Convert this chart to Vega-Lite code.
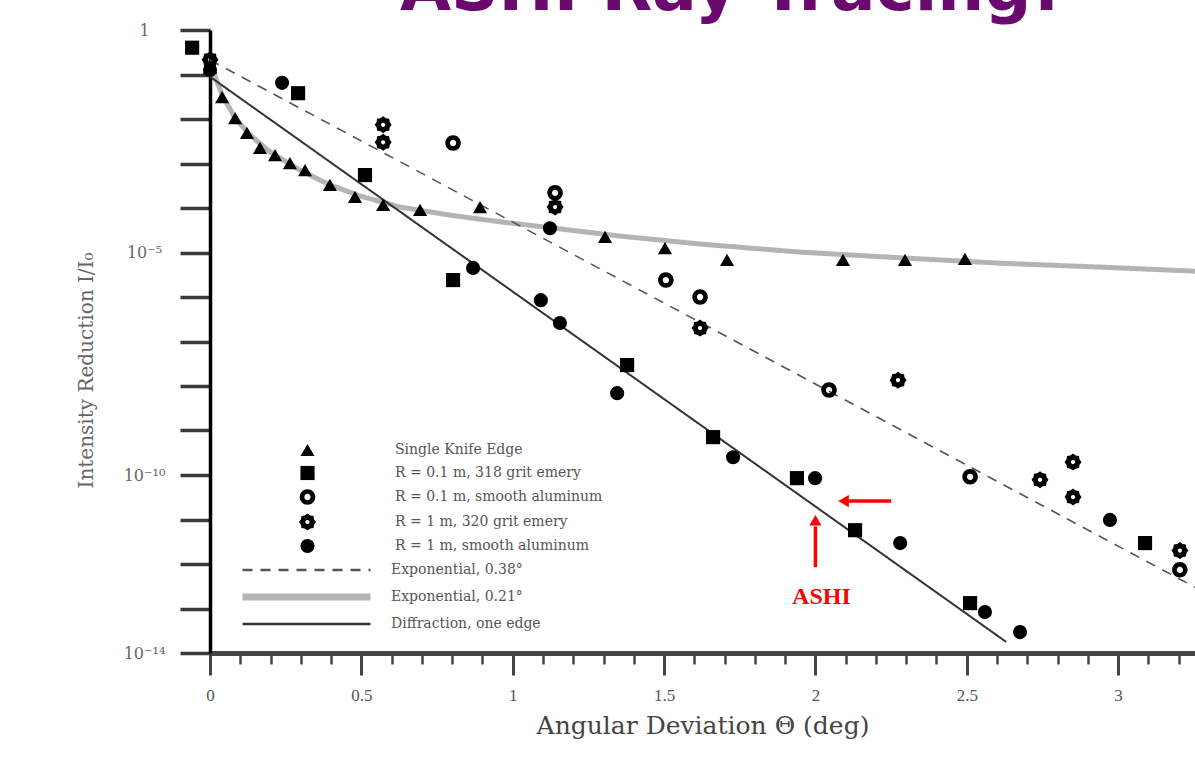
{
  "$schema": "https://vega.github.io/schema/vega-lite/v6.json",
  "width": 985,
  "height": 623,
  "autosize": {"type": "none"},
  "padding": {"left": 210, "top": 30, "right": 0, "bottom": 107},
  "background": "white",
  "title": {
    "text": "ASHI Ray Tracing!",
    "anchor": "start",
    "frame": "group",
    "dx": 190,
    "dy": 63,
    "offset": 9,
    "baseline": "alphabetic",
    "font": "DejaVu Sans",
    "fontSize": 66,
    "fontWeight": "bold",
    "color": "#6b0a6e"
  },
  "datasets": {
    "pts": [
      {"series": "Single Knife Edge", "x": 0.0, "y": 0.141},
      {"series": "Single Knife Edge", "x": 0.040, "y": 0.0309},
      {"series": "Single Knife Edge", "x": 0.083, "y": 0.0105},
      {"series": "Single Knife Edge", "x": 0.122, "y": 0.0049},
      {"series": "Single Knife Edge", "x": 0.165, "y": 0.00224},
      {"series": "Single Knife Edge", "x": 0.215, "y": 0.00155},
      {"series": "Single Knife Edge", "x": 0.264, "y": 0.00102},
      {"series": "Single Knife Edge", "x": 0.314, "y": 0.00071},
      {"series": "Single Knife Edge", "x": 0.396, "y": 0.00033},
      {"series": "Single Knife Edge", "x": 0.479, "y": 0.000178},
      {"series": "Single Knife Edge", "x": 0.572, "y": 0.000117},
      {"series": "Single Knife Edge", "x": 0.694, "y": 0.000091},
      {"series": "Single Knife Edge", "x": 0.892, "y": 0.000105},
      {"series": "Single Knife Edge", "x": 1.305, "y": 0.0000224},
      {"series": "Single Knife Edge", "x": 1.503, "y": 0.0000126},
      {"series": "Single Knife Edge", "x": 1.708, "y": 0.0000068},
      {"series": "Single Knife Edge", "x": 2.091, "y": 0.0000068},
      {"series": "Single Knife Edge", "x": 2.296, "y": 0.0000068},
      {"series": "Single Knife Edge", "x": 2.494, "y": 0.0000072},
      {"series": "R = 0.1 m, 318 grit emery", "x": -0.059, "y": 0.40},
      {"series": "R = 0.1 m, 318 grit emery", "x": 0.291, "y": 0.038},
      {"series": "R = 0.1 m, 318 grit emery", "x": 0.512, "y": 0.00055},
      {"series": "R = 0.1 m, 318 grit emery", "x": 0.803, "y": 2.4e-6},
      {"series": "R = 0.1 m, 318 grit emery", "x": 1.378, "y": 2.95e-8},
      {"series": "R = 0.1 m, 318 grit emery", "x": 1.662, "y": 7.1e-10},
      {"series": "R = 0.1 m, 318 grit emery", "x": 1.939, "y": 8.5e-11},
      {"series": "R = 0.1 m, 318 grit emery", "x": 2.131, "y": 5.75e-12},
      {"series": "R = 0.1 m, 318 grit emery", "x": 2.511, "y": 1.32e-13},
      {"series": "R = 0.1 m, 318 grit emery", "x": 3.089, "y": 2.95e-12},
      {"series": "R = 0.1 m, smooth aluminum", "x": 0.803, "y": 0.0029},
      {"series": "R = 0.1 m, smooth aluminum", "x": 1.140, "y": 0.000219},
      {"series": "R = 0.1 m, smooth aluminum", "x": 1.506, "y": 2.4e-6},
      {"series": "R = 0.1 m, smooth aluminum", "x": 1.619, "y": 1.0e-6},
      {"series": "R = 0.1 m, smooth aluminum", "x": 2.045, "y": 8.1e-9},
      {"series": "R = 0.1 m, smooth aluminum", "x": 2.511, "y": 9.1e-11},
      {"series": "R = 0.1 m, smooth aluminum", "x": 3.204, "y": 7.4e-13},
      {"series": "R = 1 m, 320 grit emery", "x": 0.0, "y": 0.214},
      {"series": "R = 1 m, 320 grit emery", "x": 0.572, "y": 0.0074},
      {"series": "R = 1 m, 320 grit emery", "x": 0.572, "y": 0.0030},
      {"series": "R = 1 m, 320 grit emery", "x": 1.140, "y": 0.000105},
      {"series": "R = 1 m, 320 grit emery", "x": 1.619, "y": 2.0e-7},
      {"series": "R = 1 m, 320 grit emery", "x": 2.273, "y": 1.35e-8},
      {"series": "R = 1 m, 320 grit emery", "x": 2.742, "y": 7.8e-11},
      {"series": "R = 1 m, 320 grit emery", "x": 2.851, "y": 1.95e-10},
      {"series": "R = 1 m, 320 grit emery", "x": 2.851, "y": 3.2e-11},
      {"series": "R = 1 m, 320 grit emery", "x": 3.204, "y": 2.0e-12},
      {"series": "R = 1 m, smooth aluminum", "x": 0.0, "y": 0.126},
      {"series": "R = 1 m, smooth aluminum", "x": 0.238, "y": 0.065},
      {"series": "R = 1 m, smooth aluminum", "x": 0.869, "y": 4.5e-6},
      {"series": "R = 1 m, smooth aluminum", "x": 1.093, "y": 8.5e-7},
      {"series": "R = 1 m, smooth aluminum", "x": 1.123, "y": 0.000035},
      {"series": "R = 1 m, smooth aluminum", "x": 1.156, "y": 2.6e-7},
      {"series": "R = 1 m, smooth aluminum", "x": 1.345, "y": 6.9e-9},
      {"series": "R = 1 m, smooth aluminum", "x": 1.728, "y": 2.5e-10},
      {"series": "R = 1 m, smooth aluminum", "x": 1.999, "y": 8.5e-11},
      {"series": "R = 1 m, smooth aluminum", "x": 2.280, "y": 2.95e-12},
      {"series": "R = 1 m, smooth aluminum", "x": 2.560, "y": 8.3e-14},
      {"series": "R = 1 m, smooth aluminum", "x": 2.676, "y": 2.95e-14},
      {"series": "R = 1 m, smooth aluminum", "x": 2.973, "y": 9.8e-12}
    ],
    "curves": [
      {"curve": "Exponential, 0.38°", "x": 0.0, "y": 0.212},
      {"curve": "Exponential, 0.38°", "x": 3.254, "y": 3.0e-13},
      {"curve": "Exponential, 0.21°", "x": 0.0, "y": 0.182},
      {"curve": "Exponential, 0.21°", "x": 0.04, "y": 0.0347},
      {"curve": "Exponential, 0.21°", "x": 0.083, "y": 0.0105},
      {"curve": "Exponential, 0.21°", "x": 0.132, "y": 0.00437},
      {"curve": "Exponential, 0.21°", "x": 0.198, "y": 0.00182},
      {"curve": "Exponential, 0.21°", "x": 0.297, "y": 0.00071},
      {"curve": "Exponential, 0.21°", "x": 0.396, "y": 0.00033},
      {"curve": "Exponential, 0.21°", "x": 0.496, "y": 0.000186},
      {"curve": "Exponential, 0.21°", "x": 0.628, "y": 0.000105},
      {"curve": "Exponential, 0.21°", "x": 0.793, "y": 0.000069},
      {"curve": "Exponential, 0.21°", "x": 0.958, "y": 0.000049},
      {"curve": "Exponential, 0.21°", "x": 1.156, "y": 0.000034},
      {"curve": "Exponential, 0.21°", "x": 1.354, "y": 0.0000234},
      {"curve": "Exponential, 0.21°", "x": 1.619, "y": 0.0000155},
      {"curve": "Exponential, 0.21°", "x": 1.949, "y": 0.0000102},
      {"curve": "Exponential, 0.21°", "x": 2.28, "y": 0.0000076},
      {"curve": "Exponential, 0.21°", "x": 2.61, "y": 0.00000575},
      {"curve": "Exponential, 0.21°", "x": 2.94, "y": 0.0000047},
      {"curve": "Exponential, 0.21°", "x": 3.254, "y": 0.0000038},
      {"curve": "Diffraction, one edge", "x": 0.0, "y": 0.089},
      {"curve": "Diffraction, one edge", "x": 2.63, "y": 1.78e-14}
    ]
  },
  "encoding": {
    "x": {
      "field": "x",
      "type": "quantitative",
      "scale": {"domain": [0, 3.254], "nice": false, "zero": false},
      "axis": {
        "title": "Angular Deviation Θ (deg)",
        "values": [0, 0.1, 0.2, 0.3, 0.4, 0.5, 0.6, 0.7, 0.8, 0.9, 1, 1.1, 1.2, 1.3, 1.4, 1.5, 1.6, 1.7, 1.8, 1.9, 2, 2.1, 2.2, 2.3, 2.4, 2.5, 2.6, 2.7, 2.8, 2.9, 3, 3.1, 3.2],
        "labelExpr": "abs(datum.value*2 - round(datum.value*2)) < 0.001 ? format(datum.value, '~g') : ''",
        "tickSize": {"condition": {"test": "abs(datum.value*2 - round(datum.value*2)) < 0.001", "value": 22}, "value": 11},
        "tickWidth": {"condition": {"test": "abs(datum.value*2 - round(datum.value*2)) < 0.001", "value": 3}, "value": 2.5},
        "tickColor": "#444",
        "domainColor": "#444",
        "domainWidth": 5,
        "labelFont": "Liberation Serif",
        "labelFontSize": 17,
        "labelColor": "#555",
        "labelPadding": 12,
        "labelFlush": false,
        "labelOverlap": false,
        "titleFont": "DejaVu Serif",
        "titleFontSize": 25,
        "titleFontWeight": "normal",
        "titleColor": "#444",
        "titlePadding": 10,
        "grid": false
      }
    },
    "y": {
      "field": "y",
      "type": "quantitative",
      "scale": {"type": "log", "domain": [1e-14, 1], "nice": false},
      "axis": {
        "title": "Intensity Reduction I/I₀",
        "values": [1, 1e-1, 1e-2, 1e-3, 1e-4, 1e-5, 1e-6, 1e-7, 1e-8, 1e-9, 1e-10, 1e-11, 1e-12, 1e-13, 1e-14],
        "labelExpr": "datum.value > 0.5 ? '1' : abs(log(datum.value)/LN10 + 5) < 0.01 ? '10⁻⁵' : abs(log(datum.value)/LN10 + 10) < 0.01 ? '10⁻¹⁰' : abs(log(datum.value)/LN10 + 14) < 0.01 ? '10⁻¹⁴' : ''",
        "tickSize": 30,
        "tickWidth": 3.5,
        "tickColor": "#3a3a3a",
        "domainColor": "#000",
        "domainWidth": 3.5,
        "labelAlign": "center",
        "labelBaseline": "middle",
        "labelPadding": 36,
        "labelFont": "DejaVu Serif",
        "labelFontSize": 16,
        "labelColor": "#666",
        "labelOverlap": false,
        "labelFlush": false,
        "titleFont": "DejaVu Serif",
        "titleFontSize": 20,
        "titleFontWeight": "normal",
        "titleColor": "#666",
        "titleX": -114,
        "titleY": 340,
        "grid": false
      }
    }
  },
  "layer": [
    {
      "data": {"name": "curves"},
      "transform": [{"filter": "datum.curve == 'Exponential, 0.21°'"}],
      "mark": {"type": "line", "strokeWidth": 5, "clip": true},
      "encoding": {
        "color": {
          "field": "curve", "type": "nominal",
          "scale": {"domain": ["Exponential, 0.38°", "Exponential, 0.21°", "Diffraction, one edge"], "range": ["#555555", "#b4b4b4", "#333333"]},
          "legend": {"orient": "none", "legendX": 89.5, "legendY": 533, "title": null, "padding": 0, "rowPadding": 6, "symbolType": "M -8 0 L 8 0", "symbolSize": 256, "symbolStrokeWidth": 2.5, "labelOffset": 77.5, "labelFont": "DejaVu Serif", "labelFontSize": 14, "labelColor": "#555", "labelLimit": 400,
            "encode": {"symbols": {"update": {"strokeWidth": {"signal": "datum.value == 'Exponential, 0.21°' ? 7 : 2.5"}}}}}
        },
        "strokeDash": {
          "field": "curve", "type": "nominal",
          "scale": {"domain": ["Exponential, 0.38°", "Exponential, 0.21°", "Diffraction, one edge"], "range": [[10, 8], [1, 0], [1, 0]]},
          "legend": {"orient": "none", "legendX": 89.5, "legendY": 533, "title": null, "padding": 0, "rowPadding": 6, "symbolType": "M -8 0 L 8 0", "symbolSize": 256, "symbolStrokeWidth": 2.5, "labelOffset": 77.5, "labelFont": "DejaVu Serif", "labelFontSize": 14, "labelColor": "#555", "labelLimit": 400,
            "encode": {"symbols": {"update": {"strokeWidth": {"signal": "datum.value == 'Exponential, 0.21°' ? 7 : 2.5"}}}}}
        }
      }
    },
    {
      "data": {"name": "curves"},
      "transform": [{"filter": "datum.curve == 'Exponential, 0.38°'"}],
      "mark": {"type": "line", "strokeWidth": 1.6, "clip": true},
      "encoding": {
        "color": {"field": "curve", "type": "nominal", "scale": {"domain": ["Exponential, 0.38°", "Exponential, 0.21°", "Diffraction, one edge"], "range": ["#555555", "#b4b4b4", "#333333"]}},
        "strokeDash": {"field": "curve", "type": "nominal", "scale": {"domain": ["Exponential, 0.38°", "Exponential, 0.21°", "Diffraction, one edge"], "range": [[10, 8], [1, 0], [1, 0]]}}
      }
    },
    {
      "data": {"name": "curves"},
      "transform": [{"filter": "datum.curve == 'Diffraction, one edge'"}],
      "mark": {"type": "line", "strokeWidth": 2, "clip": true},
      "encoding": {
        "color": {"field": "curve", "type": "nominal", "scale": {"domain": ["Exponential, 0.38°", "Exponential, 0.21°", "Diffraction, one edge"], "range": ["#555555", "#b4b4b4", "#333333"]}},
        "strokeDash": {"field": "curve", "type": "nominal", "scale": {"domain": ["Exponential, 0.38°", "Exponential, 0.21°", "Diffraction, one edge"], "range": [[10, 8], [1, 0], [1, 0]]}}
      }
    },
    {
      "data": {"name": "pts"},
      "mark": {"type": "point", "filled": true, "color": "#000", "opacity": 1, "size": 200, "clip": false},
      "encoding": {
        "shape": {
          "field": "series", "type": "nominal",
          "scale": {
            "domain": ["Single Knife Edge", "R = 0.1 m, 318 grit emery", "R = 0.1 m, smooth aluminum", "R = 1 m, 320 grit emery", "R = 1 m, smooth aluminum"],
            "range": [
              "triangle-up",
              "square",
              "M -1.1 0 A 1.1 1.1 0 1 1 1.1 0 A 1.1 1.1 0 1 1 -1.1 0 Z M -0.45 0 A 0.45 0.45 0 1 0 0.45 0 A 0.45 0.45 0 1 0 -0.45 0 Z",
              "M 1.2 0 L 0.924 0.383 L 0.849 0.849 L 0.383 0.924 L 0 1.2 L -0.383 0.924 L -0.849 0.849 L -0.924 0.383 L -1.2 0 L -0.924 -0.383 L -0.849 -0.849 L -0.383 -0.924 L 0 -1.2 L 0.383 -0.924 L 0.849 -0.849 L 0.924 -0.383 Z M 0.3 0 A 0.3 0.3 0 1 0 -0.3 0 A 0.3 0.3 0 1 0 0.3 0 Z",
              "circle"
            ]
          },
          "legend": {"orient": "none", "legendX": 90, "legendY": 412.5, "title": null, "padding": 0, "rowPadding": 8, "symbolSize": 200, "symbolFillColor": "#000", "symbolStrokeColor": "#000", "symbolStrokeWidth": 0, "symbolOpacity": 1, "labelOffset": 80, "labelFont": "DejaVu Serif", "labelFontSize": 14, "labelColor": "#555", "labelLimit": 400}
        }
      }
    },
    {
      "data": {"values": [
        {"x": 2.25, "x2": 2.11, "y": 2.6e-11, "y2": 2.6e-11},
        {"x": 2.0, "x2": 2.0, "y": 8.5e-13, "y2": 7.0e-12}
      ]},
      "mark": {"type": "rule", "color": "#ff0000", "strokeWidth": 3.5},
      "encoding": {"x2": {"field": "x2"}, "y2": {"field": "y2"}}
    },
    {
      "data": {"values": [{"x": 2.093, "y": 2.6e-11}]},
      "mark": {"type": "point", "shape": "triangle-left", "filled": true, "color": "#ff0000", "opacity": 1, "size": 150}
    },
    {
      "data": {"values": [{"x": 2.0, "y": 9.6e-12}]},
      "mark": {"type": "point", "shape": "triangle-up", "filled": true, "color": "#ff0000", "opacity": 1, "size": 150}
    },
    {
      "data": {"values": [{"x": 2.02, "y": 1.8e-13, "label": "ASHI"}]},
      "mark": {"type": "text", "color": "#ff0000", "font": "Liberation Serif", "fontSize": 24, "fontWeight": "bold", "align": "center", "baseline": "middle"},
      "encoding": {"text": {"field": "label"}}
    }
  ],
  "config": {
    "view": {"stroke": null}
  }
}
